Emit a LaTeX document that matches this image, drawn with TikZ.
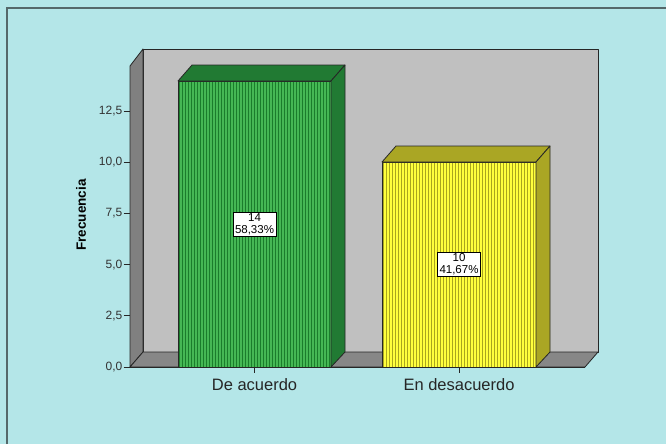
\documentclass[tikz,border=0pt]{standalone}
\usepackage{fontspec}
\setmainfont{Liberation Sans}
\definecolor{bgblue}{HTML}{B4E6E8}
\definecolor{framecol}{HTML}{55686A}
\definecolor{wallgray}{HTML}{C0C0C0}
\definecolor{sidegray}{HTML}{808080}
\definecolor{floorgray}{HTML}{878787}
\definecolor{gfront}{HTML}{45B854}
\definecolor{gstripe}{HTML}{1A7D2B}
\definecolor{gdark}{HTML}{217A33}
\definecolor{yfront}{HTML}{FFFF3C}
\definecolor{ystripe}{HTML}{A9A51E}
\definecolor{ydark}{HTML}{AAA624}
\definecolor{ticktext}{HTML}{333333}
\begin{document}
\begin{tikzpicture}[x=1pt,y=-1pt,
  edge/.style={draw=black!85,line width=0.8pt,line join=round},
  ticklab/.style={anchor=east,inner sep=0pt,text=ticktext,font=\fontsize{12}{12}\selectfont},
  catlab/.style={anchor=center,inner sep=0pt,text=black!85,font=\fontsize{16.5}{18}\selectfont},
  datalabel/.style={draw=black,fill=white,line width=0.6pt,align=center,inner xsep=2pt,inner ysep=1.5pt,font=\fontsize{11.5}{12}\selectfont},
  axtitle/.style={rotate=90,inner sep=0pt,font=\bfseries\fontsize{13.5}{14}\selectfont}]
\useasboundingbox (0,0) rectangle (666,444);
\fill[bgblue] (0,0) rectangle (666,444);
\draw[framecol,line width=1.5pt] (7,444) -- (7,8) -- (666,8);
% walls
\filldraw[fill=wallgray,edge] (143,49) rectangle (598,352);
\filldraw[fill=sidegray,edge] (130,66) -- (143,49) -- (143,352) -- (130,367) -- cycle;
\filldraw[fill=floorgray,edge] (130,367) -- (143,352) -- (598,352) -- (585,367) -- cycle;
% y ticks
\foreach \v/\t [count=\i] in {0/{0,0},2.5/{2,5},5/{5,0},7.5/{7,5},10/{10,0},12.5/{12,5}}{
  \pgfmathsetmacro{\yy}{367-20.48*\v}
  \draw[black!85,line width=0.8pt] (123.5,\yy) -- (130,\yy);
  \node[ticklab] (ytick\i) at (122.5,\yy) {\t};
}
\node[axtitle] (ytitle) at (81,215) {Frecuencia};
% green bar
\fill[gfront] (178,81) rectangle (331,367);
\foreach \x in {179.6,182.6,...,330}{\draw[gstripe,line width=1.2pt] (\x,81) -- (\x,367);}
\draw[edge] (178,81) rectangle (331,367);
\filldraw[fill=gdark,edge] (178,81) -- (192,65) -- (345,65) -- (331,81) -- cycle;
\filldraw[fill=gdark,edge] (331,81) -- (345,65) -- (345,352) -- (331,367) -- cycle;
% yellow bar
\fill[yfront] (382,162) rectangle (536,367);
\foreach \x in {383.6,386.6,...,535}{\draw[ystripe,line width=1.2pt] (\x,162) -- (\x,367);}
\draw[edge] (382,162) rectangle (536,367);
\filldraw[fill=ydark,edge] (382,162) -- (396,146) -- (550,146) -- (536,162) -- cycle;
\filldraw[fill=ydark,edge] (536,162) -- (550,146) -- (550,352) -- (536,367) -- cycle;
% floor front line and category ticks
\draw[black!85,line width=0.8pt] (130,367) -- (585,367);
\draw[black!85,line width=0.8pt] (254.5,367) -- (254.5,373);
\draw[black!85,line width=0.8pt] (459,367) -- (459,373);
\node[catlab] (cat1) at (254.5,385) {De acuerdo};
\node[catlab] (cat2) at (459,385) {En desacuerdo};
% data labels
\node[datalabel] (dl1) at (254.5,224) {14\\58,33\%};
\node[datalabel] (dl2) at (459,264.5) {10\\41,67\%};
\end{tikzpicture}
\end{document}
